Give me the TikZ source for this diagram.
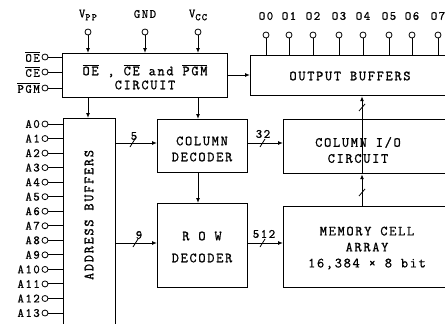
\documentclass[tikz,border=0pt]{standalone}
\usepackage{fontspec}
\setmonofont[LetterSpace=12,FakeBold=1]{Latin Modern Mono}
\usetikzlibrary{arrows.meta}
\newcommand\olt[1]{$\overline{\hbox{#1}}$}
\begin{document}
\begin{tikzpicture}[x=1pt,y=-1pt,
  font=\ttfamily\fontsize{14}{16}\selectfont,
  blk/.style={draw, line width=1.2pt, inner sep=0pt, anchor=north west},
  pin/.style={circle, draw, line width=0.8pt, minimum size=6pt, inner sep=0pt},
  lbl/.style={font=\ttfamily\fontsize{12.5}{13}\selectfont, inner sep=0pt},
  txt/.style={align=center, inner sep=0pt},
  arr/.style={-{Latex[length=5pt,width=4pt]}, line width=1pt},
  wire/.style={line width=1pt},
  bus/.style={line width=0.8pt}]
\clip (0,0) rectangle (445,324);
% blocks
\node[blk, minimum width=165pt, minimum height=44pt] (ctrl) at (62,53) {};
\node[blk, minimum width=200pt, minimum height=40pt] (ob) at (250,55) {};
\node[blk, minimum width=52pt, minimum height=215pt] (addr) at (63,118) {};
\node[blk, minimum width=90pt, minimum height=53pt] (cd) at (157,119) {};
\node[blk, minimum width=90pt, minimum height=84pt] (rd) at (157,203) {};
\node[blk, minimum width=170pt, minimum height=54pt] (cio) at (283,119) {};
\node[blk, minimum width=170pt, minimum height=81pt] (mem) at (283,206) {};
% texts
\node[txt, font=\ttfamily\fontsize{14}{14}\selectfont] (t1) at (145,77) {\olt{OE} , \olt{CE} and \olt{PGM}\\CIRCUIT};
\node[txt] (t3) at (350,76) {OUTPUT BUFFERS};
\node[txt, rotate=90] (t4) at (89,215) {ADDRESS BUFFERS};
\node[txt, font=\ttfamily\fontsize{14}{16}\selectfont] (t5) at (202,149) {COLUMN\\DECODER};
\node[txt, font=\ttfamily\fontsize{14}{16}\selectfont] (t7) at (358,150) {COLUMN I/O\\CIRCUIT};
\node[txt, font=\ttfamily\fontsize{14}{22}\selectfont] (t9) at (202,247) {R O W\\DECODER};
\node[txt, font=\ttfamily\fontsize{14}{16}\selectfont] (t11) at (367,248) {MEMORY CELL\\ARRAY\\16,384 × 8 bit};
% supply pins
\node[pin] (vpp) at (88,32) {};
\node[pin] (gnd) at (145,32) {};
\node[pin] (vcc) at (198,32) {};
\node[lbl] (lvpp) at (88,15) {V\raisebox{-3pt}{\fontsize{10}{10}\selectfont PP}};
\node[lbl] (lgnd) at (145,14) {GND};
\node[lbl] (lvcc) at (198,15) {V\raisebox{-3pt}{\fontsize{10}{10}\selectfont CC}};
\draw[arr] (vpp) -- (vpp |- ctrl.north);
\draw[arr] (gnd) -- (gnd |- ctrl.north);
\draw[arr] (vcc) -- (vcc |- ctrl.north);
% control pins
\node[pin] (poe) at (45,57) {};
\node[pin] (pce) at (45,72) {};
\node[pin] (ppgm) at (45,88) {};
\node[lbl, anchor=east] (loe) at (40,57) {\olt{OE}};
\node[lbl, anchor=east] (lce) at (40,72) {\olt{CE}};
\node[lbl, anchor=east] (lpgm) at (40,88) {\olt{PGM}};
\draw[wire] (poe) -- (poe -| ctrl.west);
\draw[wire] (pce) -- (pce -| ctrl.west);
\draw[wire] (ppgm) -- (ppgm -| ctrl.west);
% output pins
\foreach \x [count=\i from 0] in {266,289,313,339,363,389,412,438} {
  \node[pin] (o\i) at (\x,35) {};
  \node[lbl] (lo\i) at (\x,16) {O\i};
  \draw[wire] (o\i) -- (o\i |- ob.north);
}
% address pins
\foreach \i in {0,...,13} {
  \pgfmathsetmacro\yy{124+14.54*\i}
  \node[pin] (a\i) at (45,\yy) {};
  \node[lbl, anchor=east] (la\i) at (40,\yy) {A\i};
  \draw[wire] (a\i) -- (a\i -| addr.west);
}
% internal connectors
\coordinate (c1) at (227,75);
\draw[arr] (c1) -- (c1 -| ob.west);
\coordinate (c2) at (88,97);
\draw[arr] (c2) -- (c2 |- addr.north);
\coordinate (c3) at (198,97);
\draw[arr] (c3) -- (c3 |- cd.north);
\coordinate (c4) at (115,143);
\draw[arr] (c4) -- (c4 -| cd.west);
\coordinate (c5) at (115,243);
\draw[arr] (c5) -- (c5 -| rd.west);
\coordinate (c6) at (198,172);
\draw[arr] (c6) -- (c6 |- rd.north);
\coordinate (c7) at (247,143);
\draw[arr] (c7) -- (c7 -| cio.west);
\coordinate (c8) at (247,243);
\draw[arr] (c8) -- (c8 -| mem.west);
\coordinate (c9) at (362,206);
\draw[arr] (c9) -- (c9 |- cio.south);
\coordinate (c10) at (362,173);
\draw[arr] (c10) -- (c10 |- ob.south);
% bus slashes
\draw[bus] (130,147) -- (135,139);
\draw[bus] (133,247) -- (138,239);
\draw[bus] (260,147) -- (265,139);
\draw[bus] (260,247) -- (265,239);
\draw[bus] (359,111) -- (365,104);
\draw[bus] (359,196) -- (365,189);
% bus labels
\node[lbl] (n5) at (134,136) {5};
\node[lbl] (n9) at (139,235) {9};
\node[lbl] (n32) at (263,134) {32};
\node[lbl] (n512) at (264,234) {512};
\end{tikzpicture}
\end{document}
